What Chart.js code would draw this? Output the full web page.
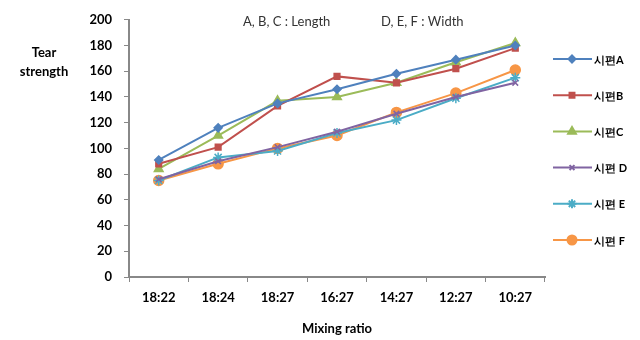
<!DOCTYPE html>
<html>
<head>
<meta charset="utf-8">
<script src="https://cdn.jsdelivr.net/npm/chart.js@4"></script>
<style>
  html, body { margin: 0; padding: 0; background: #fff; }
  #wrap { width: 640px; height: 340px; }
</style>
</head>
<body>
<div id="wrap"><canvas id="tear_chart"></canvas></div>
<script>
// Data
const categories = ['18:22', '18:24', '18:27', '16:27', '14:27', '12:27', '10:27'];
const seriesNames = ['시편A', '시편B', '시편C', '시편 D', '시편 E', '시편 F'];
const specimenA = [91, 116, 135, 146, 158, 169, 180];
const specimenB = [88, 101, 133, 156, 151, 162, 178];
const specimenC = [84, 110, 137, 140, 151, 167, 182];
const specimenD = [76, 90, 101, 113, 127, 140, 151];
const specimenE = [75, 93, 98, 112, 122, 139, 155];
const specimenF = [75, 88, 100, 110, 128, 143, 161];
const yTicks = [0, 20, 40, 60, 80, 100, 120, 140, 160, 180, 200];

const colors = ['#4F81BD', '#C0504D', '#9BBB59', '#8064A2', '#4BACC6', '#F79646'];
const markers = ['rectRot', 'rect', 'triangle', 'crossRot', 'star', 'circle'];
const markerSizes = [4, 4, 5, 4, 5, 5];
const allSeries = [specimenA, specimenB, specimenC, specimenD, specimenE, specimenF];

const FONT = 'Lato, "Open Sans", sans-serif';

const datasets = allSeries.map((values, i) => ({
    label: seriesNames[i],
    data: values,
    borderColor: colors[i],
    backgroundColor: colors[i],
    borderWidth: 2,
    pointStyle: markers[i],
    pointRadius: markerSizes[i],
    pointBorderWidth: 1.5,
    tension: 0
}));

// extra texts: y title, the note at top, and an Excel-like legend
const extras = {
    id: 'extras',
    afterDraw(chart) {
        const ctx = chart.ctx;
        ctx.save();
        ctx.fillStyle = '#000';
        ctx.font = 'bold 13px ' + FONT;
        ctx.textAlign = 'center';
        ctx.textBaseline = 'middle';
        ctx.fillText('Tear', 44, 53);
        ctx.fillText('strength', 44, 72);

        ctx.font = '13px ' + FONT;
        ctx.fillStyle = '#333';
        ctx.textAlign = 'left';
        ctx.fillText('A, B, C : Length', 243, 22);
        ctx.fillText('D, E, F : Width', 381, 22);

        chart.data.datasets.forEach((ds, i) => {
            const y = 59 + i * 36.2;
            ctx.strokeStyle = ds.borderColor;
            ctx.lineWidth = 2;
            ctx.beginPath();
            ctx.moveTo(553, y);
            ctx.lineTo(592, y);
            ctx.stroke();
            Chart.helpers.drawPoint(ctx, {
                pointStyle: ds.pointStyle,
                radius: ds.pointRadius - 0.5,
                borderWidth: 1.5
            }, 572, y);
            ctx.fillStyle = ds.borderColor;
            ctx.fill();
            ctx.fillStyle = '#000';
            ctx.font = 'bold 11px ' + FONT;
            ctx.fillText(ds.label, 594, y + 1);
        });
        ctx.restore();
    }
};

new Chart(document.getElementById('tear_chart'), {
    type: 'line',
    data: { labels: categories, datasets: datasets },
    options: {
        responsive: true,
        maintainAspectRatio: false,
        animation: false,
        layout: { padding: { top: 19, right: 95, left: 0, bottom: 0 } },
        plugins: {
            legend: { display: false },
            tooltip: { enabled: false }
        },
        scales: {
            x: {
                offset: true,
                grid: {
                    offset: true,
                    drawOnChartArea: false,
                    drawTicks: true,
                    tickLength: 5,
                    color: '#888'
                },
                border: { display: true, color: '#888', width: 2 },
                ticks: {
                    color: '#000',
                    font: { family: FONT, size: 13, weight: 'bold' },
                    padding: 8,
                    maxRotation: 0
                },
                title: {
                    display: true,
                    text: 'Mixing ratio',
                    color: '#000',
                    font: { family: FONT, size: 13, weight: 'bold' },
                    padding: { top: 10, bottom: 3 }
                },
                afterFit: s => { s.height = 63; }
            },
            y: {
                min: 0,
                max: 200,
                afterBuildTicks: s => { s.ticks = yTicks.map(v => ({ value: v })); },
                grid: {
                    drawOnChartArea: false,
                    drawTicks: true,
                    tickLength: 5,
                    color: '#888'
                },
                border: { display: true, color: '#888', width: 2 },
                ticks: {
                    color: '#000',
                    font: { family: FONT, size: 13, weight: 'bold' },
                    padding: 12
                },
                afterFit: s => { s.width = 129; }
            }
        }
    },
    plugins: [extras]
});
</script>
</body>
</html>
